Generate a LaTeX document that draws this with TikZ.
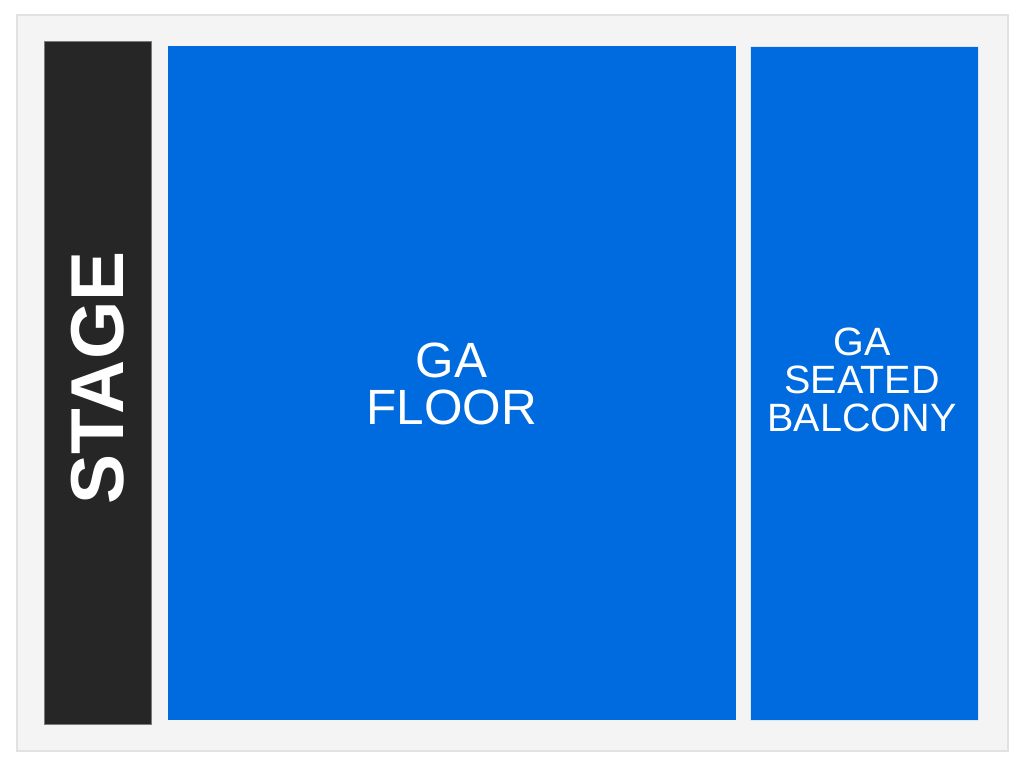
\documentclass[tikz,border=0pt]{standalone}
\usepackage{fontspec}
\setmainfont{Liberation Sans}
\definecolor{hallgray}{HTML}{F4F4F4}
\definecolor{hallline}{HTML}{E2E2E2}
\definecolor{stagedark}{HTML}{262626}
\definecolor{stageline}{HTML}{7A7A7A}
\definecolor{gablue}{HTML}{006ADF}
\tikzset{
  section/.style={shape=rectangle, fill=gablue, draw=none, inner sep=0pt},
  seclabel/.style={text=white, align=center, inner sep=0pt}
}
\begin{document}
\begin{tikzpicture}[x=1pt, y=-1pt]
\useasboundingbox (0,0) rectangle (1024,768);
\node[shape=rectangle, fill=hallgray, draw=hallline, line width=2pt, minimum width=991pt, minimum height=735pt, inner sep=0pt] (hall) at (512,383) {};
\node[shape=rectangle, fill=stagedark, draw=stageline, line width=1pt, minimum width=107pt, minimum height=682pt, inner sep=0pt] (stage) at (97.5,383) {};
\node[section, minimum width=568pt, minimum height=674pt] (floor) at (452,383) {};
\node[section, draw=white!85!gablue, line width=0.8pt, minimum width=228pt, minimum height=674pt] (balcony) at (864,383) {};
\node[text=white, rotate=90, inner sep=0pt, font=\fontsize{75}{90}\selectfont\bfseries] (stagelabel) at (97.5,378) {STAGE};
\node[seclabel, font=\fontsize{49.5}{47}\selectfont] (floorlabel) at (451.5,384) {GA\\FLOOR};
\node[seclabel, font=\fontsize{39.5}{38}\selectfont] (balconylabel) at (862,380) {GA\\SEATED\\BALCONY};
\end{tikzpicture}
\end{document}
